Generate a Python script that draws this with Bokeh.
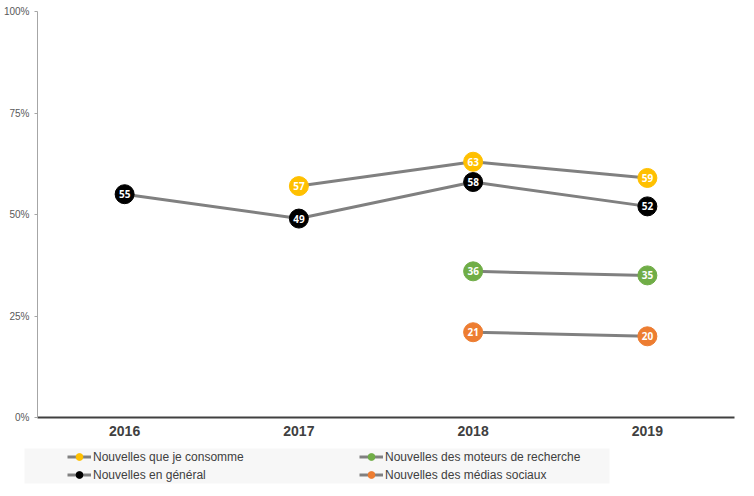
from bokeh.plotting import figure
from bokeh.models import (FactorRange, Range1d, Legend, LegendItem, ColumnDataSource,
                          NumeralTickFormatter, FixedTicker, BoxAnnotation)
from bokeh.layouts import column
from bokeh.core.properties import value
from bokeh.embed import file_html
from bokeh.resources import INLINE

years = ["2016", "2017", "2018", "2019"]

general_years = ["2016", "2017", "2018", "2019"]
general_vals = [55, 49, 58, 52]

consume_years = ["2017", "2018", "2019"]
consume_vals = [57, 63, 59]

search_years = ["2018", "2019"]
search_vals = [36, 35]

social_years = ["2018", "2019"]
social_vals = [21, 20]

y_ticks = [0, 25, 50, 75, 100]

series = [
    ("Nouvelles que je consomme", consume_years, consume_vals, "#FFC000"),
    ("Nouvelles des moteurs de recherche", search_years, search_vals, "#70AD47"),
    ("Nouvelles en général", general_years, general_vals, "#000000"),
    ("Nouvelles des médias sociaux", social_years, social_vals, "#ED7D31"),
]

p = figure(width=746, height=442, x_range=FactorRange(*years, range_padding=0),
           y_range=Range1d(0, 100), output_backend="svg", toolbar_location=None,
           min_border_left=37, min_border_right=12, min_border_top=11, min_border_bottom=25)
p.outline_line_color = None
p.xgrid.grid_line_color = None
p.ygrid.grid_line_color = None

# y axis
p.yaxis.ticker = FixedTicker(ticks=y_ticks)
p.yaxis.formatter = NumeralTickFormatter(format="0")
p.yaxis.major_label_overrides = {t: f"{t}%" for t in y_ticks}
p.yaxis.axis_line_color = "#a6a6a6"
p.yaxis.major_tick_line_color = "#a6a6a6"
p.yaxis.major_tick_out = 3
p.yaxis.major_tick_in = 0
p.yaxis.minor_tick_line_color = None
p.yaxis.major_label_standoff = 5
p.yaxis.major_label_text_font = "Liberation Sans"
p.yaxis.major_label_text_font_size = "10px"
p.yaxis.major_label_text_color = "#595959"

# x axis
p.xaxis.axis_line_color = "#404040"
p.xaxis.axis_line_width = 2
p.xaxis.major_tick_line_color = None
p.xaxis.major_tick_out = 0
p.xaxis.major_tick_in = 0
p.xaxis.major_label_standoff = 8
p.xaxis.major_label_text_font = "Liberation Sans"
p.xaxis.major_label_text_font_style = "bold"
p.xaxis.major_label_text_font_size = "14px"
p.xaxis.major_label_text_color = "#404040"

# lines first
for name, xs, ys, col in series:
    p.line(xs, ys, line_color="#808080", line_width=3)

# markers and labels
for name, xs, ys, col in series:
    src = ColumnDataSource(dict(x=xs, y=ys, t=[str(v) for v in ys]))
    p.scatter("x", "y", source=src, size=19, fill_color=col, line_color=col, line_width=1)
    p.text("x", "y", text="t", source=src, text_color="white", text_font=value("Open Sans"),
           text_font_style="bold", text_font_size="10px", text_align="center", text_baseline="middle")

# ---- legend strip (separate figure so nothing is clipped) ----
lg = figure(width=746, height=50, x_range=Range1d(0, 746), y_range=Range1d(0, 50),
            output_backend="svg", toolbar_location=None,
            x_axis_location=None, y_axis_location=None, frame_align=False,
            min_border_left=0, min_border_right=0, min_border_top=0, min_border_bottom=0)
lg.outline_line_color = None
lg.xgrid.grid_line_color = None
lg.ygrid.grid_line_color = None
lg.add_layout(BoxAnnotation(left=24, right=609, bottom=9, top=44,
                            fill_color="#f7f7f7", fill_alpha=1.0, line_color=None))

items = []
for name, xs, ys, col in series:
    lr = lg.line([-100, -90], [-100, -90], line_color="#808080", line_width=3)
    sr = lg.scatter([-100], [-100], size=19, fill_color=col, line_color=col)
    items.append(LegendItem(label=name, renderers=[lr, sr]))

legend = Legend(items=items, location=(67, 9), orientation="horizontal", ncols=2,
                padding=0, margin=0, spacing=1, glyph_width=24, glyph_height=17,
                label_standoff=2, label_width=265, label_height=17,
                label_text_font="Liberation Sans", label_text_font_size="12px",
                label_text_color="#404040", background_fill_alpha=0.0,
                border_line_color=None)
lg.add_layout(legend, "center")

layout = column(p, lg, spacing=0)
open("out.html", "w").write(file_html(layout, INLINE))
